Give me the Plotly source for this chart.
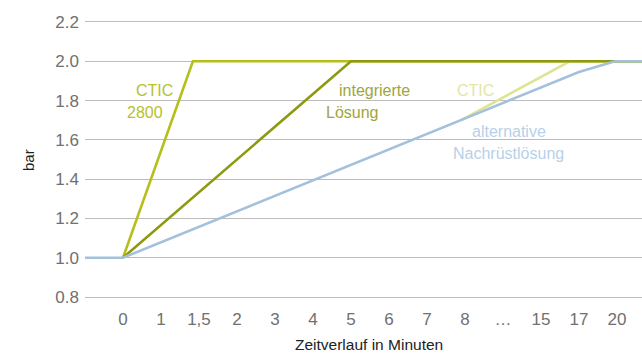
import plotly.graph_objects as go

# x positions are category slots on the evenly spaced time axis
tick_pos = list(range(14))
tick_labels = ["0", "1", "1,5", "2", "3", "4", "5", "6", "7", "8", "…", "15", "17", "20"]

ctic2800_x = [0, 1.84, 14]
ctic2800_y = [1.0, 2.0, 2.0]

integ_x = [0, 6.0, 14]
integ_y = [1.0, 2.0, 2.0]

ctic_x = [8.9, 11.76, 14]
ctic_y = [1.70, 2.0, 2.0]

alt_x = [-1, 0, 12.0, 12.95, 14]
alt_y = [1.0, 1.0, 1.945, 2.0, 2.0]

FONT = "Liberation Sans, Arial, sans-serif"

fig = go.Figure()
fig.add_trace(go.Scatter(x=ctic2800_x, y=ctic2800_y, mode="lines",
                         line=dict(color="#b5bf1c", width=2.6), hoverinfo="skip"))
fig.add_trace(go.Scatter(x=ctic_x, y=ctic_y, mode="lines",
                         line=dict(color="#dfe494", width=2.6), hoverinfo="skip"))
fig.add_trace(go.Scatter(x=integ_x, y=integ_y, mode="lines",
                         line=dict(color="#8e9a0e", width=2.6), hoverinfo="skip"))
fig.add_trace(go.Scatter(x=alt_x, y=alt_y, mode="lines",
                         line=dict(color="#a3c1dc", width=2.6), hoverinfo="skip"))

labels = [
    ("CTIC", 0.82, 1.851, "#b7c02e"),
    ("2800", 0.59, 1.739, "#b7c02e"),
    ("integrierte", 6.61, 1.849, "#9ea63a"),
    ("Lösung", 6.03, 1.737, "#9ea63a"),
    ("CTIC", 9.29, 1.851, "#e2e6a6"),
    ("alternative", 10.16, 1.645, "#b9d0e8"),
    ("Nachrüstlösung", 10.14, 1.533, "#b9d0e8"),
]
for t, x, y, c in labels:
    fig.add_annotation(x=x, y=y, text=t, showarrow=False, xanchor="center", yanchor="middle",
                       font=dict(family=FONT, size=16, color=c))

fig.add_annotation(xref="paper", yref="paper", x=(369 - 85) / 557, y=(353 - 54 - 344) / 279,
                   text="Zeitverlauf in Minuten", showarrow=False, xanchor="center", yanchor="middle",
                   font=dict(family=FONT, size=15.5, color="#222222"))
fig.add_annotation(xref="paper", yref="paper", x=(28 - 85) / 557, y=(299 - 160) / 279,
                   text="bar", textangle=-90, showarrow=False, xanchor="center", yanchor="middle",
                   font=dict(family=FONT, size=15, color="#222222"))

fig.update_layout(
    width=642, height=353,
    margin=dict(l=85, r=0, t=20, b=54),
    paper_bgcolor="white", plot_bgcolor="white",
    showlegend=False,
    font=dict(family=FONT),
    xaxis=dict(range=[-1, 13.66], tickvals=tick_pos, ticktext=tick_labels,
               showgrid=False, zeroline=False, showline=False, ticks="",
               tickfont=dict(size=17, color="#707070"), ticklabelstandoff=8),
    yaxis=dict(range=[0.79, 2.21], tickvals=[0.8, 1.0, 1.2, 1.4, 1.6, 1.8, 2.0, 2.2],
               ticktext=["0.8", "1.0", "1.2", "1.4", "1.6", "1.8", "2.0", "2.2"],
               showgrid=True, gridcolor="#bcbcbc", gridwidth=1.2, zeroline=False,
               showline=False, ticks="", tickfont=dict(size=17, color="#707070"),
               ticklabelstandoff=5),
)

fig.write_html("out.html")
